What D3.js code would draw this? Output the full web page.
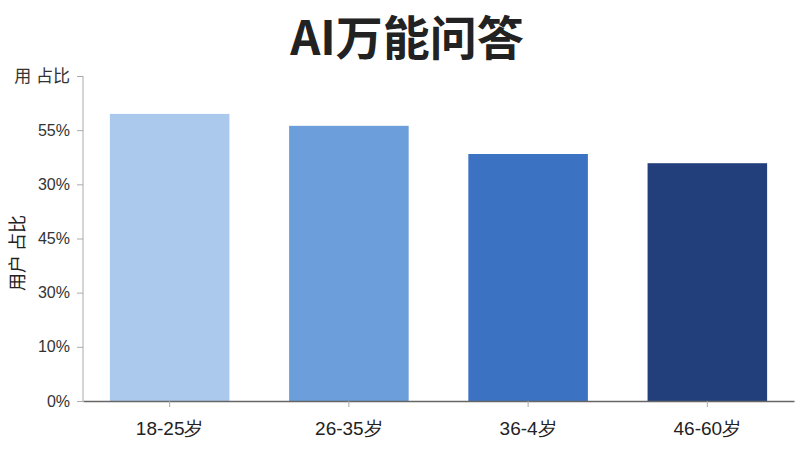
<!DOCTYPE html>
<html>
<head>
<meta charset="utf-8">
<script src="https://cdn.jsdelivr.net/npm/d3@7"></script>
<style>
  body { margin: 0; background: #fff; }
  svg { display: block; font-family: "Noto Sans CJK SC", "Noto Sans", sans-serif; }
</style>
</head>
<body>
<div id="chart-area"></div>
<script>
// data
const categories = ["18-25岁", "26-35岁", "36-4岁", "46-60岁"];
const shares = [53, 50.8, 45.6, 43.9];
const barColors = ["#abc9ec", "#6b9edb", "#3b72c2", "#223f7b"];
// tick labels as printed on the original (they don't follow the scale)
const tickValues = [0, 10, 20, 30, 40, 50, 60];
const tickLabels = ["0%", "10%", "30%", "45%", "30%", "55%", "用 占比"];

const W = 800, H = 450;
const margin = { left: 83, right: 6, top: 76, bottom: 49 };
const width = W - margin.left - margin.right,
      height = H - margin.top - margin.bottom;

const svg = d3.select("#chart-area")
  .append("svg")
    .attr("width", W)
    .attr("height", H);

svg.append("text")
  .attr("x", 407)
  .attr("y", 55)
  .attr("text-anchor", "middle")
  .attr("font-size", 47)
  .attr("font-weight", "bold")
  .attr("fill", "#222")
  .text("AI万能问答");

const g = svg.append("g")
  .attr("transform", "translate(" + margin.left + ", " + margin.top + ")");

const xScale = d3.scaleBand()
  .domain(categories)
  .range([0, width])
  .paddingInner(0.333)
  .paddingOuter(0.15);

const yScale = d3.scaleLinear()
  .domain([0, 60])
  .range([height, 0]);

g.selectAll("rect")
  .data(categories)
  .enter()
  .append("rect")
    .attr("x", (d) => xScale(d))
    .attr("y", (d, i) => yScale(shares[i]))
    .attr("width", xScale.bandwidth())
    .attr("height", (d, i) => height - yScale(shares[i]))
    .attr("fill", (d, i) => barColors[i]);

// y axis
const yAxis = g.append("g")
  .call(d3.axisLeft(yScale)
    .tickValues(tickValues)
    .tickFormat((d, i) => tickLabels[i])
    .tickSize(6)
    .tickPadding(7));
yAxis.select(".domain").attr("stroke", "#aaa").attr("d", "M0," + yScale(60) + "V" + height);
yAxis.selectAll(".tick line").attr("stroke", "#aaa");
yAxis.selectAll(".tick text")
  .attr("font-size", (d, i) => i === 6 ? 17 : 16)
  .attr("fill", "#333")
  .attr("font-family", "'Liberation Sans', 'Noto Sans CJK SC', sans-serif");

// x axis
const xAxis = g.append("g")
  .attr("transform", "translate(0, " + height + ")")
  .call(d3.axisBottom(xScale).tickSize(6).tickSizeOuter(0).tickPadding(15));
xAxis.select(".domain").attr("stroke", "#666").attr("stroke-width", 1.5);
xAxis.selectAll(".tick line").attr("stroke", "#aaa");
xAxis.selectAll(".tick text")
  .attr("font-size", 19)
  .attr("fill", "#222");

// rotated y label
svg.append("text")
  .attr("transform", "translate(24, 253) rotate(-90)")
  .attr("text-anchor", "middle")
  .attr("font-size", 18)
  .attr("fill", "#222")
  .text("用户 占比");
</script>
</body>
</html>
